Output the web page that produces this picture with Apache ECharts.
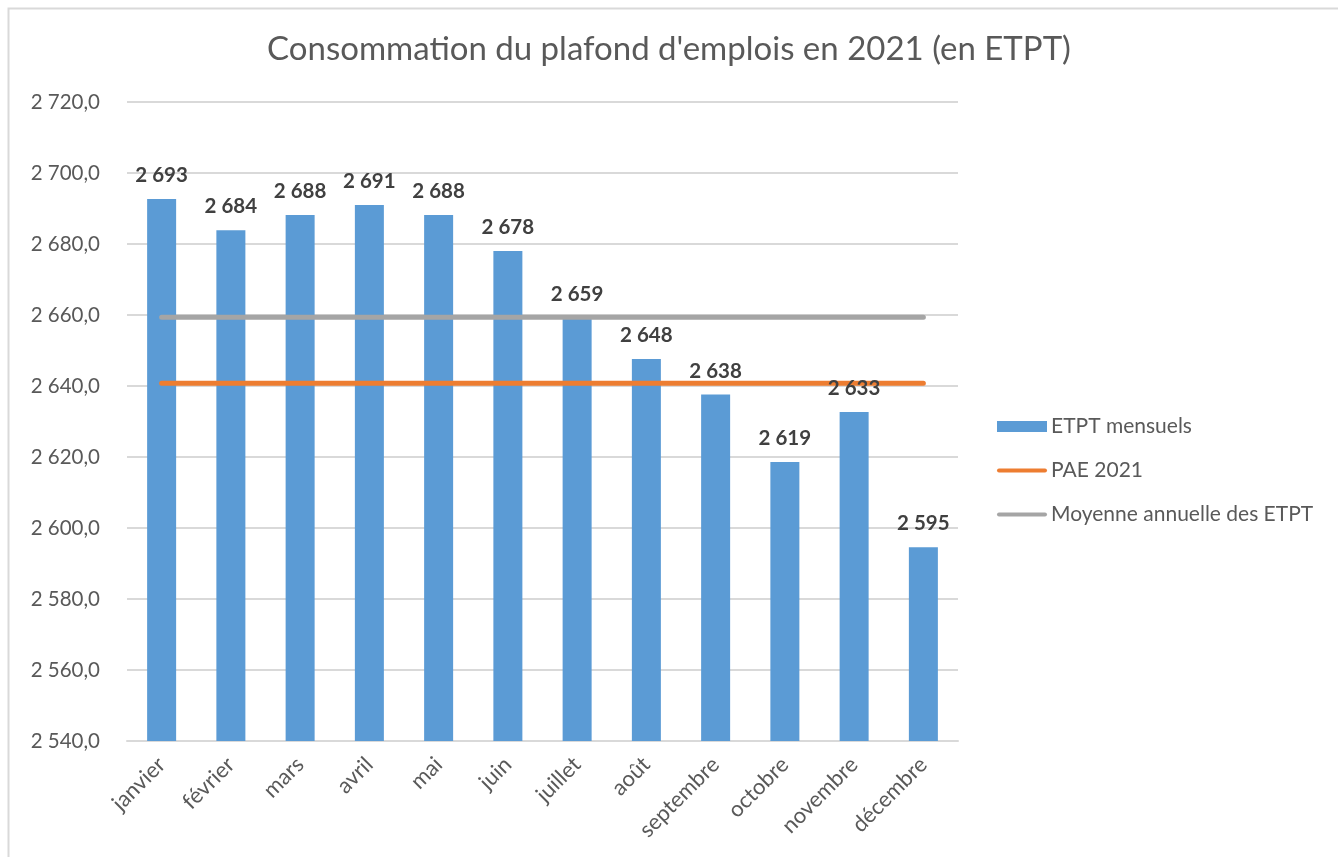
<!DOCTYPE html>
<html><head><meta charset="utf-8">
<script src="https://cdn.jsdelivr.net/npm/echarts@6/dist/echarts.min.js"></script>
<style>html,body{margin:0;padding:0;background:#fff;}#c{width:1338px;height:857px;}</style>
</head><body><div id="c"></div>
<script>
const categories = ['janvier','février','mars','avril','mai','juin','juillet','août','septembre','octobre','novembre','décembre'];
const etptMensuels = [2692.7, 2683.9, 2688.2, 2691.0, 2688.2, 2678.0, 2659.2, 2647.6, 2637.6, 2618.6, 2632.7, 2594.6];
const pae2021 = [2640.8, 2640.8, 2640.8, 2640.8, 2640.8, 2640.8, 2640.8, 2640.8, 2640.8, 2640.8, 2640.8, 2640.8];
const moyenne = [2659.4, 2659.4, 2659.4, 2659.4, 2659.4, 2659.4, 2659.4, 2659.4, 2659.4, 2659.4, 2659.4, 2659.4];
const seriesNames = ['ETPT mensuels', 'PAE 2021', 'Moyenne annuelle des ETPT'];

function sep(n){ return String(n).replace(/\B(?=(\d{3})+(?!\d))/g, ' '); }
const FONT = 'Lato';
const chart = echarts.init(document.getElementById('c'));
chart.setOption({
  backgroundColor: '#fff',
  textStyle: {fontFamily: FONT},
  title: {
    text: "Consommation du plafond d'emplois en 2021 (en ETPT)",
    left: 'center', top: 28,
    textStyle: {fontFamily: FONT, fontSize: 33, fontWeight: 'normal', color: '#595959'}
  },
  graphic: [{type: 'rect', shape: {x: 8.5, y: 8.5, width: 1340, height: 860}, style: {fill: null, stroke: '#d9d9d9', lineWidth: 2}, silent: true}],
  legend: {
    orient: 'vertical', left: 992, top: 411, itemWidth: 50, itemHeight: 11, itemGap: 23,
    textStyle: {fontFamily: FONT, fontSize: 21, color: '#595959', padding: [0,0,0,-1]},
    data: [
      {name: seriesNames[0], icon: 'rect'},
      {name: seriesNames[1], icon: 'path://M2,3 L48,3 A2,2 0 0 1 48,7 L2,7 A2,2 0 0 1 2,3 Z'},
      {name: seriesNames[2], icon: 'path://M2,3 L48,3 A2,2 0 0 1 48,7 L2,7 A2,2 0 0 1 2,3 Z'}
    ]
  },
  grid: {left: 127, right: 380, top: 102, bottom: 116},
  xAxis: {
    type: 'category', data: categories,
    axisLine: {lineStyle: {color: '#d9d9d9', width: 2}},
    axisTick: {show: false},
    axisLabel: {rotate: 45, fontSize: 22, color: '#595959', margin: 20, fontFamily: FONT}
  },
  yAxis: {
    type: 'value', min: 2540, max: 2720, interval: 20,
    axisLine: {show: false}, axisTick: {show: false},
    splitLine: {lineStyle: {color: '#d9d9d9', width: 2}},
    axisLabel: {fontSize: 20.5, color: '#595959', margin: 27, fontFamily: FONT,
      formatter: v => sep(Math.floor(v)) + ',' + v.toFixed(1).split('.')[1]}
  },
  series: [
    {name: seriesNames[0], type: 'bar', data: etptMensuels, barWidth: 29, z: 2,
     itemStyle: {color: '#5b9bd5'}},
    {name: seriesNames[1], type: 'line', data: pae2021, symbol: 'none', z: 3,
     lineStyle: {color: '#ed7d31', width: 5, cap: 'round'}, itemStyle: {color: '#ed7d31'}},
    {name: seriesNames[2], type: 'line', data: moyenne, symbol: 'none', z: 3,
     lineStyle: {color: '#a5a5a5', width: 5, cap: 'round'}, itemStyle: {color: '#a5a5a5'}},
    {name: 'labels', type: 'scatter', data: etptMensuels, symbolSize: 0, z: 5, silent: true,
     itemStyle: {opacity: 1, color: '#404040'},
     label: {show: true, position: 'top', distance: 13, fontSize: 20.5, fontWeight: 'bold', color: '#404040', fontFamily: FONT,
       formatter: p => sep(Math.round(p.value))}}
  ]
});
</script></body></html>
